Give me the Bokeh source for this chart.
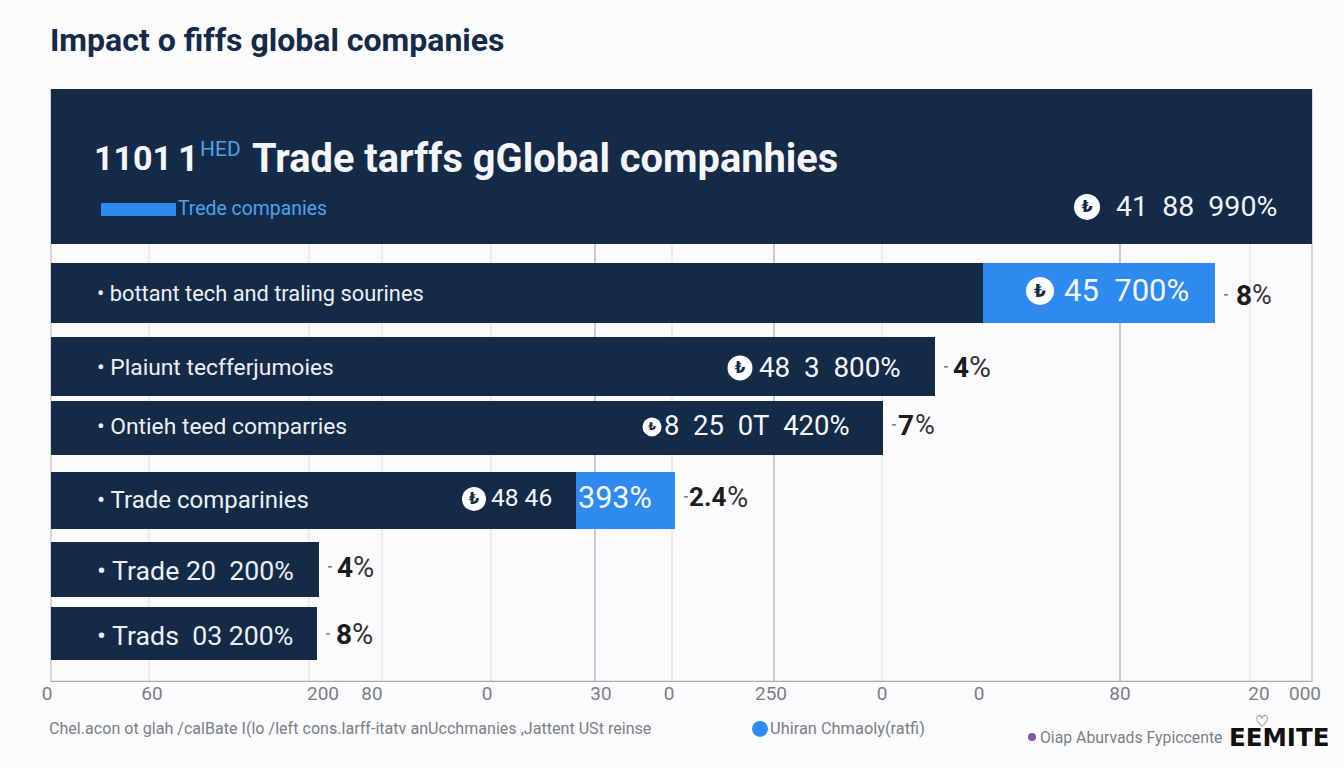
from bokeh.plotting import figure
from bokeh.models import Range1d, FixedTicker, Label
from bokeh.embed import file_html
from bokeh.resources import INLINE

# ---- data (axis units: the chart's own linear width)
rows = ["bottant", "Plaiunt", "Ontieh", "Trade", "Trade20", "Trads03"]
navy_values = [932, 884, 832, 525, 268, 266]
blue_values = [232, 0, 0, 99, 0, 0]
header_value = 1261
row_labels = ["• bottant tech and traling sourines", "• Plaiunt tecfferjumoies", "• Ontieh teed comparries",
              "• Trade comparinies", "• Trade 20\u00a0\u00a0200%", "• Trads\u00a0\u00a003 200%"]
inner_labels = ["45\u00a0\u00a0700%", "48\u00a0\u00a03\u00a0\u00a0800%", "8\u00a0\u00a025\u00a0\u00a00T\u00a0\u00a0420%", "48 46", "", ""]
end_bold = ["8", "4", "7", "2.4", "4", "8"]
tick_positions = [-4, 101, 272, 321, 436, 550, 618, 720, 831, 928, 1069, 1208, 1254]
tick_labels = ["0", "60", "200", "80", "0", "30", "0", "250", "0", "0", "80", "20", "000"]
grid_strong = [544, 723, 1069]
grid_light = [98, 258, 331, 440, 621, 831, 1199]

# ---- layout / style
NAVY, BLUE, BG = "#142A47", "#2F8AF0", "#FBFBFE"
OX = 51  # picture x of value zero
row_top = [263, 337, 401, 472, 542, 607]
row_bot = [323, 396, 455, 529, 597, 660]
FONT = "Roboto"

p = figure(width=1344, height=768, output_backend="svg", toolbar_location=None,
           x_range=Range1d(0.5 - OX, 1344.5 - OX), y_range=Range1d(768.6, 0.6),
           y_axis_type=None, min_border_left=0, min_border_right=0, min_border_top=0, min_border_bottom=0,
           background_fill_color=BG, border_fill_color=BG, outline_line_color=None)
p.xgrid.visible = False
p.ygrid.visible = False

ax = p.xaxis[0]
ax.fixed_location = 682
ax.ticker = FixedTicker(ticks=tick_positions)
ax.major_label_overrides = dict(zip(tick_positions, tick_labels))
ax.major_tick_line_color = None
ax.minor_tick_line_color = None
ax.axis_line_color = None
ax.major_label_text_font = FONT
ax.major_label_text_font_size = "19px"
ax.major_label_text_color = "#7C7F85"
ax.major_label_standoff = -1

p.segment(grid_light, [89] * len(grid_light), grid_light, [682] * len(grid_light), line_color="#DCDDE2", line_width=1)
p.segment(grid_strong, [89] * len(grid_strong), grid_strong, [682] * len(grid_strong), line_color="#A9ABB2", line_width=1.2)
p.segment([0, header_value], [89, 89], [0, header_value], [682, 682], line_color="#BFC0C6", line_width=1.2)
p.segment([0], [681.5], [header_value], [681.5], line_color="#A9ABB2", line_width=1.4)

p.quad(left=[0], right=[header_value], top=[89], bottom=[244], fill_color=NAVY, line_color=None)
p.quad(left=[0] * 6, right=navy_values, top=row_top, bottom=row_bot, fill_color=NAVY, line_color=None)
blue_left = [n for n, b in zip(navy_values, blue_values) if b]
blue_right = [n + b for n, b in zip(navy_values, blue_values) if b]
blue_top = [t for t, b in zip(row_top, blue_values) if b]
blue_bot = [t for t, b in zip(row_bot, blue_values) if b]
p.quad(left=blue_left, right=blue_right, top=blue_top, bottom=blue_bot, fill_color=BLUE, line_color=None)


def txt(x, y, s, size, color="#FFFFFF", bold=False, font=FONT, align="left"):
    p.add_layout(Label(x=x - OX, y=y, text=s, text_font=font, text_font_size=f"{size}px", text_color=color,
                       text_font_style="bold" if bold else "normal", text_align=align, text_baseline="middle"))


def badge(x, y, r, size):
    p.circle([x - OX], [y], radius=r, radius_units="screen", fill_color="#FFFFFF", line_color=None)
    txt(x, y, "₺", size, NAVY, True, "DejaVu Sans", "center")


# title and header band
txt(50, 40, "Impact o fiffs global companies", 32, NAVY, True)
txt(94, 158, "1101", 34, "#F4F6FA", True)
txt(178, 158, "1", 36, "#F4F6FA", True)
txt(200, 149, "HED", 21, "#4BA3F0")
txt(252, 159, "Trade tarffs gGlobal companhies", 39.8, "#F4F6FA", True)
p.quad(left=[101 - OX], right=[176 - OX], top=[203], bottom=[216], fill_color=BLUE, line_color=None)
txt(178, 209, "Trede companies", 19.4, "#4BA3F0")
badge(1087, 207, 13, 16)
txt(1116, 207, "41\u00a0\u00a088\u00a0\u00a0990%", 28.5, "#F1F3F7")

# row texts
row_y = [294, 368, 427, 500, 571, 636]
row_size = [21.8, 22.8, 22.8, 24, 26.7, 26.7]
for y, s, z in zip(row_y, row_labels, row_size):
    txt(97, y, s, z, "#ECF0F5")

inner_x = [1064, 759, 664, 491]
inner_y = [291, 368, 426, 498]
inner_z = [31, 27.8, 27.5, 24.5]
for x, y, s, z in zip(inner_x, inner_y, inner_labels, inner_z):
    txt(x, y, s, z, "#F4F6FA")
txt(578, 498, "393%", 30.5, "#F4F6FA")
badge(1040, 291, 14, 17)
badge(740, 368, 12.5, 15)
badge(652, 427, 9.5, 11)
badge(474, 499, 12, 15)

# end labels
end_x = [1236, 953, 898, 689, 337, 336]
end_y = [295, 367, 425, 497, 567, 634]
pct_x = [1252, 969, 915, 727, 353, 352]
bold_z = [28, 28, 28, 26, 28, 28]
pct_z = [27, 30, 27, 29, 29, 29]
for x, px, y, b, bz, pz in zip(end_x, pct_x, end_y, end_bold, bold_z, pct_z):
    txt(x, y, b, bz, "#1C1C1C", True)
    txt(px, y, "%", pz, "#333333")
ends = [n + b for n, b in zip(navy_values, blue_values)]
p.segment([e + 9 for e in ends], end_y, [e + 13 for e in ends], end_y, line_color="#555555", line_width=1.2)

# footer
txt(49, 729, "Chel.acon ot glah /calBate I(lo /left cons.larff-itatv anUcchmanies ,Jattent USt reinse", 16.1, "#7C7F85")
p.circle([760 - OX], [729], radius=8, radius_units="screen", fill_color=BLUE, line_color=None)
txt(770, 729, "Uhiran Chmaoly(ratfi)", 16.4, "#7C7F85")
p.circle([1032 - OX], [737], radius=4, radius_units="screen", fill_color="#7B5AA6", line_color=None)
txt(1040, 738, "Oiap Aburvads Fypiccente", 15.8, "#7C7F85")
txt(1229, 738, "EEMITE", 24.5, "#111111", True, "DejaVu Sans")
txt(1262, 722, "♡", 16, "#111111", True, "DejaVu Sans", "center")

open("out.html", "w").write(file_html(p, INLINE))
